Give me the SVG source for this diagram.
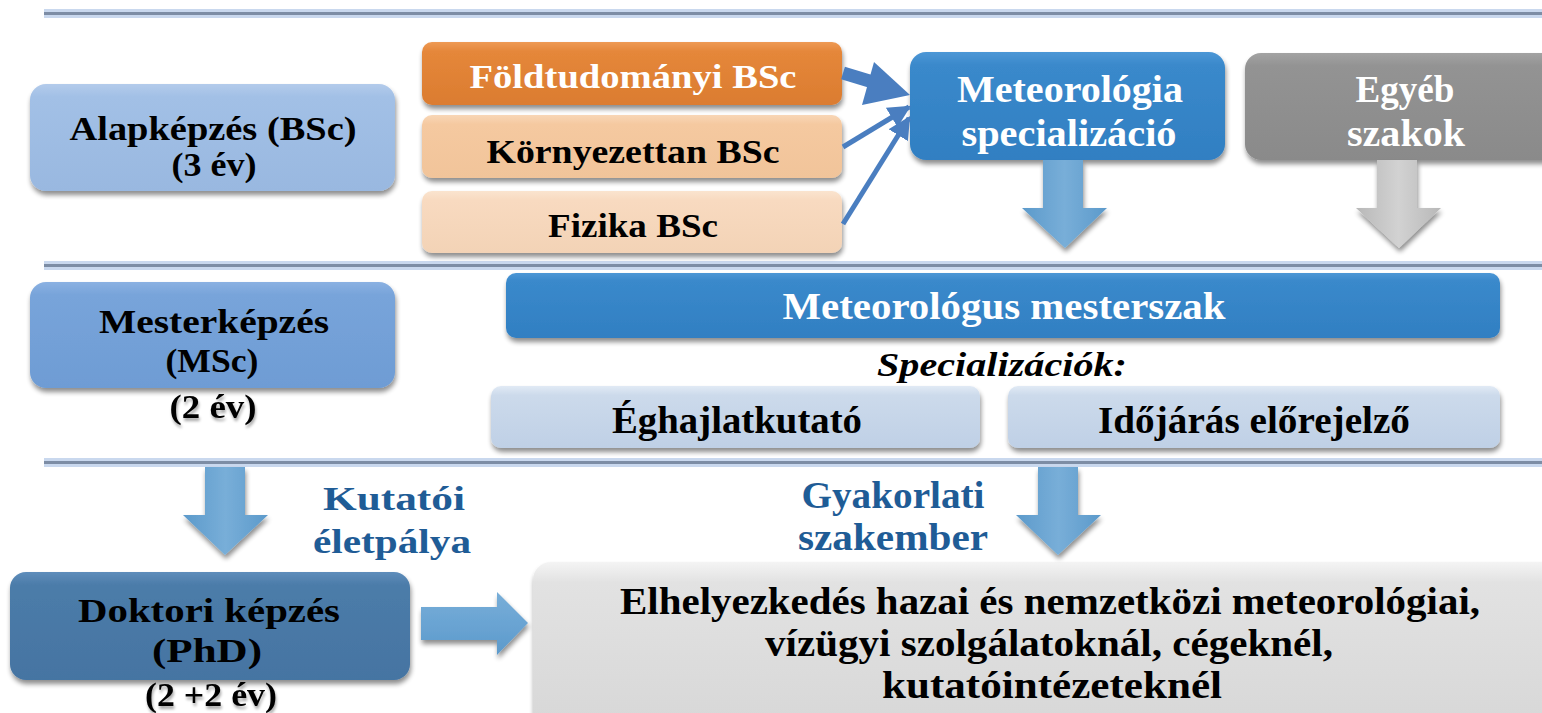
<svg xmlns="http://www.w3.org/2000/svg" width="1542" height="713" viewBox="0 0 1542 713">
<style>
text{font-family:"Liberation Serif","DejaVu Serif",serif;font-weight:bold;text-anchor:middle}
.t32{font-size:34px}
.t34{font-size:38px}
.t36{font-size:37px}
.wh{fill:#ffffff}
.bk{fill:#000000}
.bl{fill:#1F5C96}
.shd{filter:url(#ds)}
</style>
<defs>
<filter id="ds" x="-10%" y="-20%" width="120%" height="150%">
<feGaussianBlur in="SourceAlpha" stdDeviation="2.5"/>
<feOffset dx="1" dy="4" result="b"/>
<feComponentTransfer><feFuncA type="linear" slope="0.45"/></feComponentTransfer>
<feMerge><feMergeNode/><feMergeNode in="SourceGraphic"/></feMerge>
</filter>
<filter id="ts" x="-10%" y="-20%" width="120%" height="150%">
<feGaussianBlur in="SourceAlpha" stdDeviation="1.5"/>
<feOffset dx="1" dy="3"/>
<feComponentTransfer><feFuncA type="linear" slope="0.35"/></feComponentTransfer>
<feMerge><feMergeNode/><feMergeNode in="SourceGraphic"/></feMerge>
</filter>
<linearGradient id="gAlap" x1="0" y1="0" x2="0" y2="1"><stop offset="0" stop-color="#B3CBEB"/><stop offset="0.12" stop-color="#A2C0E6"/><stop offset="1" stop-color="#99B8E0"/></linearGradient>
<linearGradient id="gOr" x1="0" y1="0" x2="0" y2="1"><stop offset="0" stop-color="#EE9A55"/><stop offset="0.15" stop-color="#E5873A"/><stop offset="1" stop-color="#DB7C30"/></linearGradient>
<linearGradient id="gOr2" x1="0" y1="0" x2="0" y2="1"><stop offset="0" stop-color="#F8D6B6"/><stop offset="0.15" stop-color="#F5C9A0"/><stop offset="1" stop-color="#F1C49A"/></linearGradient>
<linearGradient id="gOr3" x1="0" y1="0" x2="0" y2="1"><stop offset="0" stop-color="#FAE4CF"/><stop offset="0.15" stop-color="#F8DAC0"/><stop offset="1" stop-color="#F3D3B6"/></linearGradient>
<linearGradient id="gBlue" x1="0" y1="0" x2="0" y2="1"><stop offset="0" stop-color="#4D97D6"/><stop offset="0.12" stop-color="#3A89CB"/><stop offset="1" stop-color="#317FC2"/></linearGradient>
<linearGradient id="gGray" x1="0" y1="0" x2="0" y2="1"><stop offset="0" stop-color="#A3A3A3"/><stop offset="0.12" stop-color="#939393"/><stop offset="1" stop-color="#8A8A8A"/></linearGradient>
<linearGradient id="gMes" x1="0" y1="0" x2="0" y2="1"><stop offset="0" stop-color="#8BB1E2"/><stop offset="0.12" stop-color="#78A4DA"/><stop offset="1" stop-color="#6E9CD4"/></linearGradient>
<linearGradient id="gSpec" x1="0" y1="0" x2="0" y2="1"><stop offset="0" stop-color="#E1EAF5"/><stop offset="0.15" stop-color="#CCDAEB"/><stop offset="1" stop-color="#BFD0E6"/></linearGradient>
<linearGradient id="gDok" x1="0" y1="0" x2="0" y2="1"><stop offset="0" stop-color="#5E8DBB"/><stop offset="0.12" stop-color="#4C7CA9"/><stop offset="1" stop-color="#4574A2"/></linearGradient>
<linearGradient id="gEl" x1="0" y1="0" x2="0" y2="1"><stop offset="0" stop-color="#F4F4F4"/><stop offset="0.12" stop-color="#E2E2E2"/><stop offset="1" stop-color="#D7D7D7"/></linearGradient>
<linearGradient id="gArrB" x1="0" y1="0" x2="1" y2="0"><stop offset="0" stop-color="#5C9ACB"/><stop offset="0.5" stop-color="#78AED8"/><stop offset="1" stop-color="#5C9ACB"/></linearGradient>
<linearGradient id="gArrG" x1="0" y1="0" x2="1" y2="0"><stop offset="0" stop-color="#B8B8B8"/><stop offset="0.5" stop-color="#D2D2D2"/><stop offset="1" stop-color="#B8B8B8"/></linearGradient>
<linearGradient id="gArrR" x1="0" y1="0" x2="0" y2="1"><stop offset="0" stop-color="#78AED8"/><stop offset="0.5" stop-color="#6AA4D3"/><stop offset="1" stop-color="#5C9ACB"/></linearGradient>
<marker id="ahT" viewBox="0 0 10 10" refX="9" refY="5" markerWidth="4.5" markerHeight="4.5" markerUnits="strokeWidth" orient="auto"><path d="M0,0 L10,5 L0,10 z" fill="#4A7EC0"/></marker>
</defs>

<g id="separators">
<rect x="44" y="9" width="1498" height="9" fill="#C9D8EE"/>
<rect x="44" y="12" width="1498" height="3" fill="#7D8DA5"/>
<rect x="44" y="261" width="1498" height="9" fill="#C9D8EE"/>
<rect x="44" y="264" width="1498" height="3" fill="#7D8DA5"/>
<rect x="44" y="458" width="1498" height="9" fill="#C9D8EE"/>
<rect x="44" y="461" width="1498" height="3" fill="#7D8DA5"/>
</g>

<g id="alapkepzes">
<rect class="shd" x="30" y="84" width="365" height="107" rx="16" fill="url(#gAlap)"/>
<text class="t32 bk" x="213" y="140" textLength="287" lengthAdjust="spacingAndGlyphs">Alapképzés (BSc)</text>
<text class="t32 bk" x="214" y="176" textLength="85" lengthAdjust="spacingAndGlyphs">(3 év)</text>
</g>

<g id="foldtudomanyi">
<rect class="shd" x="422" y="42" width="420" height="63" rx="10" fill="url(#gOr)"/>
<text class="t32 wh" x="633" y="88" textLength="327" lengthAdjust="spacingAndGlyphs">Földtudományi BSc</text>
</g>
<g id="kornyezettan">
<rect class="shd" x="422" y="115" width="420" height="63" rx="10" fill="url(#gOr2)"/>
<text class="t32 bk" x="633" y="163" textLength="293" lengthAdjust="spacingAndGlyphs">Környezettan BSc</text>
</g>
<g id="fizika">
<rect class="shd" x="422" y="191" width="420" height="62" rx="10" fill="url(#gOr3)"/>
<text class="t32 bk" x="633" y="237" textLength="170" lengthAdjust="spacingAndGlyphs">Fizika BSc</text>
</g>

<g id="meteorologia-spec">
<rect class="shd" x="910" y="52" width="315" height="108" rx="16" fill="url(#gBlue)"/>
<text class="t34 wh" x="1070" y="102" textLength="226" lengthAdjust="spacingAndGlyphs">Meteorológia</text>
<text class="t34 wh" x="1069" y="146" textLength="215" lengthAdjust="spacingAndGlyphs">specializáció</text>
</g>
<g id="egyeb">
<rect class="shd" x="1245" y="53" width="320" height="107" rx="16" fill="url(#gGray)"/>
<text class="t34 wh" x="1405" y="102" textLength="99" lengthAdjust="spacingAndGlyphs">Egyéb</text>
<text class="t34 wh" x="1406" y="146" textLength="118" lengthAdjust="spacingAndGlyphs">szakok</text>
</g>

<g id="mesterkepzes">
<rect class="shd" x="30" y="282" width="365" height="106" rx="16" fill="url(#gMes)"/>
<text class="t32 bk" x="214" y="333" textLength="230" lengthAdjust="spacingAndGlyphs">Mesterképzés</text>
<text class="t32 bk" x="212" y="372" textLength="93" lengthAdjust="spacingAndGlyphs">(MSc)</text>
<text class="t32 bk" style="filter:url(#ts)" x="213" y="418" textLength="87" lengthAdjust="spacingAndGlyphs">(2 év)</text>
</g>

<g id="meteorologus-mesterszak">
<rect class="shd" x="506" y="273" width="994" height="65" rx="10" fill="url(#gBlue)"/>
<text class="t34 wh" x="1004" y="319" textLength="443" lengthAdjust="spacingAndGlyphs">Meteorológus  mesterszak</text>
</g>
<g id="specializaciok">
<text class="t32 bk" style="font-style:italic" x="1002" y="376" textLength="250" lengthAdjust="spacingAndGlyphs">Specializációk:</text>
</g>
<g id="eghajlatkutato">
<rect class="shd" x="491" y="386" width="489" height="62" rx="10" fill="url(#gSpec)"/>
<text class="t34 bk" x="737" y="433" textLength="250" lengthAdjust="spacingAndGlyphs">Éghajlatkutató</text>
</g>
<g id="idojaras">
<rect class="shd" x="1008" y="386" width="492" height="62" rx="10" fill="url(#gSpec)"/>
<text class="t34 bk" x="1254" y="433" textLength="312" lengthAdjust="spacingAndGlyphs">Időjárás előrejelző</text>
</g>

<g id="kutatoi-label">
<text class="t32 bl" x="394" y="510" textLength="142" lengthAdjust="spacingAndGlyphs">Kutatói</text>
<text class="t32 bl" x="392" y="553" textLength="158" lengthAdjust="spacingAndGlyphs">életpálya</text>
</g>
<g id="gyakorlati-label">
<text class="t34 bl" x="893" y="508" textLength="183" lengthAdjust="spacingAndGlyphs">Gyakorlati</text>
<text class="t34 bl" x="893" y="550" textLength="190" lengthAdjust="spacingAndGlyphs">szakember</text>
</g>

<g id="doktori">
<rect class="shd" x="10" y="572" width="400" height="108" rx="16" fill="url(#gDok)"/>
<text class="t32 bk" x="209" y="622" textLength="262" lengthAdjust="spacingAndGlyphs">Doktori képzés</text>
<text class="t32 bk" x="207" y="662" textLength="110" lengthAdjust="spacingAndGlyphs">(PhD)</text>
<text class="t32 bk" style="filter:url(#ts)" x="211" y="706" textLength="132" lengthAdjust="spacingAndGlyphs">(2 +2 év)</text>
</g>

<g id="elhelyezkedes">
<rect class="shd" x="533" y="562" width="1030" height="170" rx="18" fill="url(#gEl)"/>
<text class="t36 bk" x="1050" y="614" textLength="860" lengthAdjust="spacingAndGlyphs">Elhelyezkedés hazai és nemzetközi meteorológiai,</text>
<text class="t36 bk" x="1049" y="656" textLength="568" lengthAdjust="spacingAndGlyphs">vízügyi szolgálatoknál, cégeknél,</text>
<text class="t36 bk" x="1052" y="698" textLength="340" lengthAdjust="spacingAndGlyphs">kutatóintézeteknél</text>
</g>

<g id="connectors">
<path d="M843,73 L876,83" stroke="#4A7EC0" stroke-width="13" fill="none"/>
<path d="M874,62 L910,95 L862,105 z" fill="#4A7EC0"/>
<line x1="843" y1="147" x2="909" y2="107" stroke="#4A7EC0" stroke-width="5" marker-end="url(#ahT)"/>
<line x1="843" y1="224" x2="909" y2="118" stroke="#4A7EC0" stroke-width="5" marker-end="url(#ahT)"/>
<path class="shd" d="M1043,160 L1083,160 L1083,208 L1107,208 L1065,248 L1022,208 L1043,208 z" fill="url(#gArrB)"/>
<path class="shd" d="M1377,160 L1417,160 L1417,208 L1441,208 L1399,248 L1356,208 L1377,208 z" fill="url(#gArrG)"/>
<path class="shd" d="M205,467 L245,467 L245,515 L268,515 L225,555 L183,515 L205,515 z" fill="url(#gArrB)"/>
<path class="shd" d="M1038,467 L1078,467 L1078,515 L1101,515 L1058,555 L1016,515 L1038,515 z" fill="url(#gArrB)"/>
<path class="shd" d="M421,607 L497,607 L497,592 L528,623 L497,655 L497,640 L421,640 z" fill="url(#gArrR)"/>
</g>
</svg>
